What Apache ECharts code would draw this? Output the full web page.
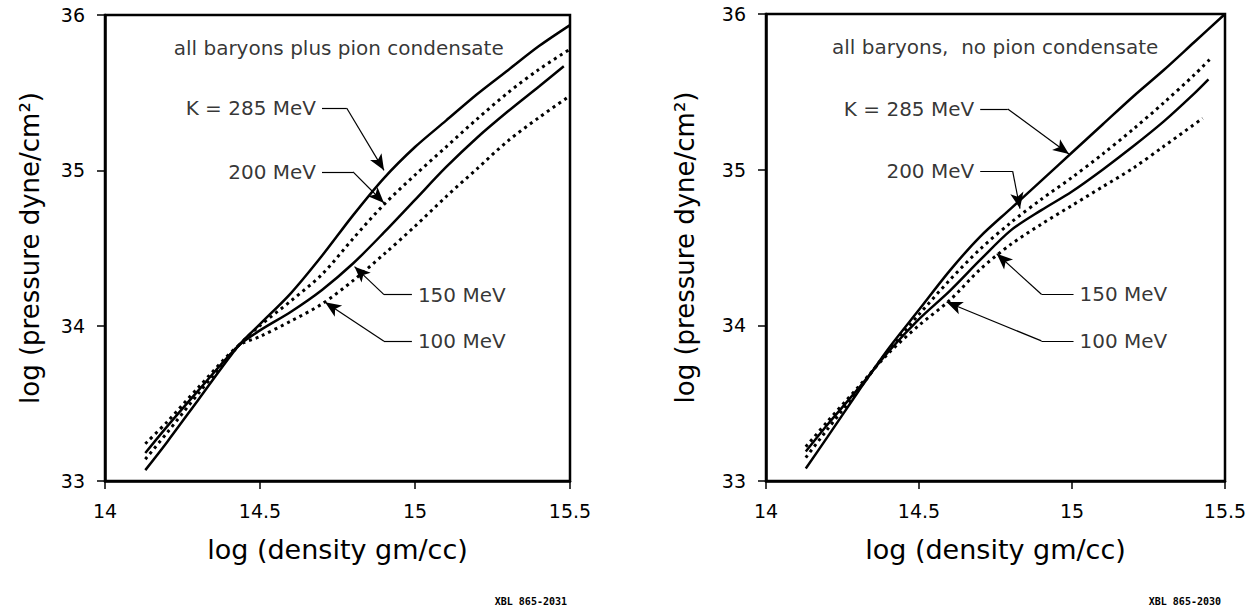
<!DOCTYPE html>
<html><head><meta charset="utf-8">
<script src="https://cdn.jsdelivr.net/npm/echarts@6/dist/echarts.min.js"></script>
<style>html,body{margin:0;padding:0;background:#fff}#c{width:1251px;height:607px}</style>
</head><body><div id="c"></div>
<script>
// ---- axis ticks ----
const xTicks = [14, 14.5, 15, 15.5];
const yTicks = [33, 34, 35, 36];

// ---- left panel: all baryons plus pion condensate ----
const leftK285 = [[14.13,33.07],[14.2,33.25],[14.3,33.52],[14.43,33.87],[14.5,34.01],[14.6,34.21],[14.7,34.45],[14.8,34.71],[14.9,34.95],[15.0,35.15],[15.1,35.32],[15.2,35.49],[15.3,35.645],[15.4,35.80],[15.5,35.935]];
const leftK200 = [[14.13,33.14],[14.2,33.31],[14.3,33.56],[14.43,33.87],[14.5,34.00],[14.6,34.16],[14.7,34.33],[14.8,34.56],[14.9,34.78],[15.0,34.97],[15.1,35.15],[15.2,35.33],[15.3,35.50],[15.4,35.65],[15.5,35.78]];
const leftK150 = [[14.13,33.18],[14.2,33.35],[14.3,33.58],[14.43,33.87],[14.5,33.97],[14.6,34.09],[14.7,34.23],[14.8,34.40],[14.9,34.60],[15.0,34.81],[15.1,35.02],[15.2,35.21],[15.3,35.38],[15.4,35.54],[15.48,35.67]];
const leftK100 = [[14.13,33.24],[14.2,33.38],[14.3,33.60],[14.43,33.87],[14.5,33.93],[14.6,34.03],[14.7,34.14],[14.8,34.29],[14.9,34.46],[15.0,34.64],[15.1,34.83],[15.2,35.01],[15.3,35.19],[15.4,35.34],[15.5,35.48]];

// ---- right panel: all baryons, no pion condensate ----
const rightK285 = [[14.13,33.08],[14.2,33.28],[14.3,33.57],[14.4,33.85],[14.5,34.10],[14.6,34.35],[14.7,34.57],[14.8,34.75],[14.9,34.93],[15.0,35.11],[15.1,35.29],[15.2,35.47],[15.3,35.64],[15.4,35.82],[15.5,36.0]];
const rightK200 = [[14.13,33.15],[14.2,33.33],[14.3,33.58],[14.4,33.84],[14.5,34.07],[14.6,34.29],[14.7,34.49],[14.8,34.66],[14.9,34.81],[15.0,34.95],[15.1,35.10],[15.2,35.26],[15.3,35.43],[15.4,35.61],[15.456,35.72]];
const rightK150 = [[14.13,33.19],[14.2,33.36],[14.3,33.59],[14.4,33.83],[14.5,34.04],[14.6,34.22],[14.7,34.42],[14.8,34.61],[14.9,34.74],[15.0,34.86],[15.1,35.00],[15.2,35.15],[15.3,35.31],[15.4,35.49],[15.446,35.58]];
const rightK100 = [[14.13,33.22],[14.2,33.38],[14.3,33.60],[14.4,33.82],[14.5,34.00],[14.6,34.16],[14.7,34.36],[14.8,34.52],[14.9,34.65],[15.0,34.77],[15.1,34.89],[15.2,35.01],[15.3,35.15],[15.427,35.33]];

// ---- text ----
const panelTitles = ['all baryons plus pion condensate', 'all baryons,  no pion condensate'];
const figureCodes = ['XBL 865-2031', 'XBL 865-2030'];
const xName = 'log (density gm/cc)';
const yName = 'log (pressure dyne/cm\u00B2)';
const curveNames = ['K = 285 MeV', '200 MeV', '150 MeV', '100 MeV'];

// ---- annotations (data coordinates): [labelSide, startX, y, cornerX, tipX, tipY] ----
const titlePosL = [14.754, 35.785];
const titlePosR = [14.749, 35.786];
const leftNotes = [
  ['left', 14.70, 35.40, 14.78, 14.90, 35.00],
  ['left', 14.70, 34.99, 14.80, 14.90, 34.79],
  ['right', 14.99, 34.20, 14.90, 14.805, 34.38],
  ['right', 14.99, 33.90, 14.90, 14.71, 34.15]
];
const rightNotes = [
  ['left', 14.70, 35.39, 14.79, 14.99, 35.10],
  ['left', 14.70, 34.99, 14.806, 14.83, 34.75],
  ['right', 15.005, 34.20, 14.90, 14.754, 34.46],
  ['right', 15.005, 33.90, 14.90, 14.59, 34.15]
];

const FONT = 'DejaVu Sans';
const chart = echarts.init(document.getElementById('c'), null, {renderer: 'svg'});

function makeAxes(i, yNameGap) {
  const x = {
    gridIndex: i, type: 'value', min: xTicks[0], max: xTicks[xTicks.length-1], interval: 0.5,
    axisLine: {onZero: false, lineStyle: {color: '#000', width: 2.5}},
    axisTick: {inside: false, length: 8, lineStyle: {color: '#000', width: 1.5}},
    axisLabel: {color: '#000', fontSize: 19, fontFamily: FONT, margin: 20},
    splitLine: {show: false},
    name: xName, nameLocation: 'middle', nameGap: 55,
    nameTextStyle: {color: '#000', fontSize: 27, fontFamily: FONT}
  };
  const y = {
    gridIndex: i, type: 'value', min: yTicks[0], max: yTicks[yTicks.length-1], interval: 1,
    axisLine: {onZero: false, lineStyle: {color: '#000', width: 2.5}},
    axisTick: {inside: false, length: 8, lineStyle: {color: '#000', width: 1.5}},
    axisLabel: {color: '#000', fontSize: 19, fontFamily: FONT, margin: 20},
    splitLine: {show: false},
    name: yName, nameLocation: 'middle', nameGap: yNameGap,
    nameTextStyle: {color: '#000', fontSize: 26, fontFamily: FONT}
  };
  return [x, y];
}

function curve(i, data, dotted) {
  return {
    type: 'line', xAxisIndex: i, yAxisIndex: i, data: data, smooth: 0.3,
    symbol: 'none', silent: true,
    lineStyle: dotted ? {color: '#000', width: 3, type: [3, 4]} : {color: '#000', width: 2.5, type: 'solid'}
  };
}

function notesSeries(i, notes, titlePos, title) {
  const pts = [];
  const lines = [];
  notes.forEach((n, k) => {
    const [side, sx, y, cx, tx, ty] = n;
    pts.push({
      value: [sx, y], name: curveNames[k],
      label: {show: true, position: side, distance: 6, formatter: '{b}',
              color: '#000', fontSize: 20, fontFamily: FONT}
    });
    lines.push([{coord: [sx, y], symbol: 'none'}, {coord: [cx, y], symbol: 'none'}]);
    lines.push([{coord: [cx, y], symbol: 'none'}, {coord: [tx, ty], symbol: 'arrow', symbolSize: [10, 16]}]);
  });
  pts.push({
    value: titlePos, name: title,
    label: {show: true, position: 'inside', formatter: '{b}', color: '#000', fontSize: 20, fontFamily: FONT}
  });
  return {
    type: 'scatter', xAxisIndex: i, yAxisIndex: i, symbolSize: 0, silent: true,
    data: pts,
    markLine: {
      silent: true, animation: false, symbol: ['none', 'none'],
      label: {show: false},
      lineStyle: {color: '#000', width: 1.2, type: 'solid'},
      emphasis: {disabled: true},
      data: lines
    }
  };
}

const [xa0, ya0] = makeAxes(0, 62);
const [xa1, ya1] = makeAxes(1, 68);

chart.setOption({
  animation: false,
  backgroundColor: '#fff',
  title: [
    {text: figureCodes[0], right: 1251 - 572, top: 591,
     textStyle: {fontSize: 10, fontWeight: 'bold', fontFamily: 'DejaVu Sans Mono', color: '#000'}},
    {text: figureCodes[1], right: 1251 - 1226, top: 591,
     textStyle: {fontSize: 10, fontWeight: 'bold', fontFamily: 'DejaVu Sans Mono', color: '#000'}}
  ],
  grid: [
    {left: 105, top: 15, width: 465, height: 466, show: true, borderColor: '#000', borderWidth: 2.5, backgroundColor: 'transparent'},
    {left: 766, top: 14, width: 459, height: 467, show: true, borderColor: '#000', borderWidth: 2.5, backgroundColor: 'transparent'}
  ],
  xAxis: [xa0, xa1],
  yAxis: [ya0, ya1],
  series: [
    curve(0, leftK285, false), curve(0, leftK200, true), curve(0, leftK150, false), curve(0, leftK100, true),
    notesSeries(0, leftNotes, titlePosL, panelTitles[0]),
    curve(1, rightK285, false), curve(1, rightK200, true), curve(1, rightK150, false), curve(1, rightK100, true),
    notesSeries(1, rightNotes, titlePosR, panelTitles[1])
  ]
});
</script>
</body></html>
